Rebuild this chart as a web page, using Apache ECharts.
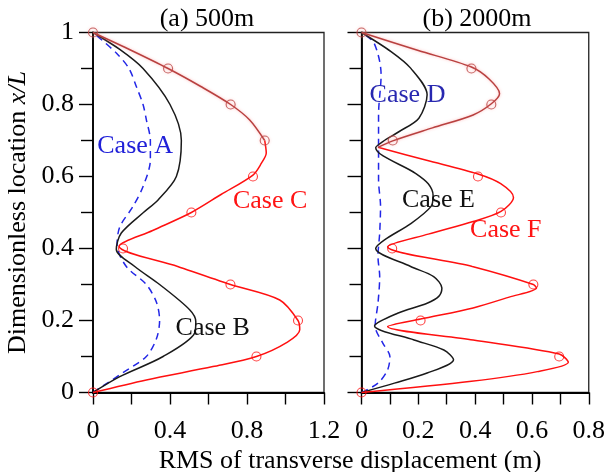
<!DOCTYPE html>
<html>
<head>
<meta charset="utf-8">
<script src="https://cdn.jsdelivr.net/npm/echarts/dist/echarts.min.js"></script>
<style>
  html, body { margin: 0; padding: 0; background: #fff; }
  #chart { width: 608px; height: 472px; }
</style>
</head>
<body>
<div id="chart"></div>
<script>
// ---------------- data: RMS transverse displacement vs. location x/L ----------------

// (a) 500 m riser
const caseA_y = [0, 0.055, 0.1, 0.15, 0.2, 0.25, 0.3, 0.35, 0.41, 0.46, 0.517, 0.572, 0.646, 0.7, 0.758, 0.8, 0.85, 0.9, 0.943, 1];
const caseA_x = [0, 0.155, 0.277, 0.33, 0.346, 0.33, 0.277, 0.173, 0.125, 0.139, 0.208, 0.26, 0.298, 0.298, 0.277, 0.26, 0.225, 0.187, 0.121, 0];

const caseB_y = [0, 0.044, 0.1, 0.165, 0.197, 0.23, 0.3, 0.35, 0.398, 0.443, 0.5, 0.535, 0.6, 0.7, 0.8, 0.9, 0.953, 1];
const caseB_x = [0, 0.139, 0.364, 0.528, 0.534, 0.502, 0.346, 0.217, 0.121, 0.147, 0.262, 0.338, 0.433, 0.459, 0.40, 0.26, 0.139, 0];

const caseC_y = [0, 0.035, 0.072, 0.1, 0.14, 0.174, 0.2, 0.257, 0.3, 0.35, 0.406, 0.45, 0.5, 0.55, 0.604, 0.637, 0.665, 0.7, 0.757, 0.8, 0.85, 0.9, 0.95, 1];
const caseC_x = [0, 0.277, 0.623, 0.849, 1.01, 1.074, 1.065, 0.97, 0.714, 0.44, 0.135, 0.31, 0.511, 0.665, 0.831, 0.875, 0.9, 0.892, 0.814, 0.715, 0.56, 0.39, 0.2, 0];

// (b) 2000 m riser
const caseD_y = [0, 0.026, 0.063, 0.1, 0.137, 0.185, 0.248, 0.322, 0.378, 0.443, 0.517, 0.59, 0.683, 0.771, 0.883, 0.971, 1];
const caseD_x = [0, 0.058, 0.092, 0.1, 0.075, 0.048, 0.058, 0.064, 0.058, 0.064, 0.067, 0.06, 0.06, 0.06, 0.069, 0.044, 0];

const caseE_y = [0, 0.026, 0.054, 0.091, 0.118, 0.146, 0.185, 0.22, 0.248, 0.267, 0.29, 0.322, 0.35, 0.40, 0.424, 0.47, 0.517, 0.548, 0.58, 0.609, 0.68, 0.697, 0.725, 0.762, 0.827, 0.901, 0.947, 1];
const caseE_x = [0, 0.116, 0.231, 0.324, 0.29, 0.185, 0.046, 0.127, 0.231, 0.272, 0.283, 0.254, 0.173, 0.05, 0.081, 0.175, 0.245, 0.252, 0.235, 0.19, 0.05, 0.075, 0.133, 0.202, 0.231, 0.173, 0.104, 0];

const caseF_y = [0, 0.031, 0.058, 0.084, 0.107, 0.146, 0.183, 0.204, 0.235, 0.265, 0.29, 0.3, 0.35, 0.405, 0.44, 0.475, 0.503, 0.542, 0.58, 0.607, 0.645, 0.681, 0.699, 0.735, 0.771, 0.802, 0.83, 0.87, 0.904, 0.95, 1];
const caseF_x = [0, 0.387, 0.619, 0.728, 0.696, 0.393, 0.092, 0.208, 0.393, 0.52, 0.616, 0.605, 0.39, 0.092, 0.235, 0.393, 0.491, 0.535, 0.49, 0.41, 0.229, 0.058, 0.11, 0.25, 0.393, 0.457, 0.486, 0.45, 0.387, 0.2, 0];

// sampled points (circles) at every 0.1 of x/L
const mark_y  = [0, 0.1, 0.2, 0.3, 0.4, 0.5, 0.6, 0.7, 0.8, 0.9, 1];
const caseC_markX = [0, 0.849, 1.065, 0.714, 0.156, 0.511, 0.831, 0.892, 0.715, 0.39, 0];
const caseF_markX = [0, 0.696, 0.208, 0.605, 0.108, 0.491, 0.41, 0.11, 0.457, 0.387, 0];

// axis ticks
const yTicks  = { min: 0, max: 1, step: 0.2 };
const xTicksA = { min: 0, max: 1.2, step: 0.4 };
const xTicksB = { min: 0, max: 0.8, step: 0.2 };

// ---------------- styling ----------------
const FONT = "'Liberation Serif', 'Times New Roman', serif";
const BLUE = '#2226e6';
const RED = '#ff1010';
const DARKRED = '#b8403f';
const BLACK = '#1a1a1a';

const zip = (xs, ys) => xs.map((x, i) => [x, ys[i]]);
const upperPart = (pts, cut) => pts.filter(p => p[1] >= cut);
const lowerPart = (pts, cut) => pts.filter(p => p[1] <= cut);

const chart = echarts.init(document.getElementById('chart'), null, { renderer: 'canvas' });

function lineSeries(name, gi, pts, color, opts = {}) {
  return Object.assign({
    name, type: 'line', xAxisIndex: gi, yAxisIndex: gi,
    data: pts, smooth: 0.3, showSymbol: false, clip: false, silent: true,
    animation: false,
    lineStyle: { color, width: 1.5 }
  }, opts);
}

function markSeries(name, gi, pts, color, halo) {
  return {
    name, type: 'scatter', xAxisIndex: gi, yAxisIndex: gi,
    data: pts, symbol: 'circle', symbolSize: 9, clip: false, silent: true, animation: false,
    itemStyle: {
      color: 'rgba(255,255,255,0)', borderColor: color, borderWidth: 1.1,
      shadowColor: halo ? 'rgba(255,140,140,0.6)' : 'transparent', shadowBlur: halo ? 3 : 0
    },
    z: 5
  };
}

const ptsA = zip(caseA_x, caseA_y);
const ptsB = zip(caseB_x, caseB_y);
const ptsC = zip(caseC_x, caseC_y);
const ptsD = zip(caseD_x, caseD_y);
const ptsE = zip(caseE_x, caseE_y);
const ptsF = zip(caseF_x, caseF_y);
const markC = zip(caseC_markX, mark_y);
const markF = zip(caseF_markX, mark_y);

const cutC = 0.7, cutF = 0.681;
const haloStyle = { shadowColor: 'rgba(255,140,140,0.6)', shadowBlur: 3 };

function xAxisCfg(gi, t) {
  return {
    type: 'value', gridIndex: gi, min: t.min, max: t.max, interval: t.step,
    axisLine: { show: true, onZero: false, lineStyle: { color: '#000', width: 1.8 } },
    axisTick: { show: true, length: 12, lineStyle: { color: '#000', width: 1.4 } },
    minorTick: { show: true, splitNumber: 2, length: 12, lineStyle: { color: '#000', width: 1.4 } },
    axisLabel: { fontFamily: FONT, fontSize: 26, color: '#000', margin: 26,
                 formatter: v => String(+v.toFixed(1)) },
    splitLine: { show: false }
  };
}

function yAxisCfg(gi, showLabels) {
  const cfg = {
    type: 'value', gridIndex: gi, min: yTicks.min, max: yTicks.max, interval: yTicks.step,
    axisLine: { show: true, onZero: false, lineStyle: { color: '#000', width: 1.8 } },
    axisTick: { show: true, length: 14, lineStyle: { color: '#000', width: 1.4 } },
    minorTick: { show: true, splitNumber: 2, length: 12, lineStyle: { color: '#000', width: 1.4 } },
    axisLabel: { show: showLabels, fontFamily: FONT, fontSize: 26, color: '#000', margin: 19,
                 formatter: v => String(+v.toFixed(1)) },
    splitLine: { show: false }
  };
  if (showLabels) {
    Object.assign(cfg, {
      name: '{n|Dimensionless location }{i|x/L}',
      nameLocation: 'middle', nameRotate: 90, nameGap: 62,
      nameTextStyle: {
        fontFamily: FONT, fontSize: 26, color: '#000',
        rich: {
          n: { fontFamily: FONT, fontSize: 26, color: '#000' },
          i: { fontFamily: FONT, fontSize: 26, color: '#000', fontStyle: 'italic' }
        }
      }
    });
  }
  return cfg;
}

const option = {
  backgroundColor: '#fff',
  animation: false,
  title: [
    { text: '(a) 500m', left: 202, top: 1, textAlign: 'center',
      textStyle: { fontFamily: FONT, fontSize: 26, fontWeight: 'normal', color: '#000' } },
    { text: '(b) 2000m', left: 472, top: 1, textAlign: 'center',
      textStyle: { fontFamily: FONT, fontSize: 26, fontWeight: 'normal', color: '#000' } },
    { text: 'RMS of transverse displacement (m)', left: 345, top: 443, textAlign: 'center',
      textStyle: { fontFamily: FONT, fontSize: 26, fontWeight: 'normal', color: '#000' } }
  ],
  grid: [
    { left: 93, top: 32.5, width: 231, height: 360, show: true, borderColor: '#222', borderWidth: 1.3, backgroundColor: 'transparent' },
    { left: 361.5, top: 32.5, width: 231, height: 360, show: true, borderColor: '#222', borderWidth: 1.3, backgroundColor: 'transparent' }
  ],
  xAxis: [xAxisCfg(0, xTicksA), xAxisCfg(1, xTicksB)],
  yAxis: [yAxisCfg(0, true), yAxisCfg(1, false)],
  series: [
    // panel (a)
    lineSeries('Case A', 0, ptsA, BLUE, { lineStyle: { color: BLUE, width: 1.5, type: [7, 5] } }),
    lineSeries('Case B', 0, ptsB, BLACK),
    lineSeries('Case C', 0, lowerPart(ptsC, cutC), RED),
    lineSeries('Case C upper', 0, upperPart(ptsC, cutC), DARKRED,
      { lineStyle: Object.assign({ color: DARKRED, width: 1.5 }, haloStyle) }),
    markSeries('Case C points', 0, markC.filter(p => p[1] < cutC), RED, false),
    markSeries('Case C points upper', 0, markC.filter(p => p[1] >= cutC), DARKRED, true),
    // panel (b)
    lineSeries('Case D', 1, ptsD, BLUE, { lineStyle: { color: BLUE, width: 1.5, type: [7, 5] } }),
    lineSeries('Case E', 1, ptsE, BLACK),
    lineSeries('Case F', 1, lowerPart(ptsF, cutF), RED),
    lineSeries('Case F upper', 1, upperPart(ptsF, cutF), DARKRED,
      { lineStyle: Object.assign({ color: DARKRED, width: 1.5 }, haloStyle) }),
    markSeries('Case F points', 1, markF.filter(p => p[1] < cutF), RED, false),
    markSeries('Case F points upper', 1, markF.filter(p => p[1] >= cutF), DARKRED, true)
  ]
};

chart.setOption(option);

// case labels, anchored in data coordinates of their panel
const caseLabels = [
  { text: 'Case A', grid: 0, at: [0.219, 0.683], color: '#2020d8' },
  { text: 'Case B', grid: 0, at: [0.622, 0.18], color: '#111' },
  { text: 'Case C', grid: 0, at: [0.92, 0.531], color: '#ff1414' },
  { text: 'Case D', grid: 1, at: [0.162, 0.827], color: '#2828b0' },
  { text: 'Case E', grid: 1, at: [0.271, 0.535], color: '#111' },
  { text: 'Case F', grid: 1, at: [0.508, 0.45], color: '#ff1414' }
];

chart.setOption({
  graphic: caseLabels.map(l => {
    const p = chart.convertToPixel({ xAxisIndex: l.grid, yAxisIndex: l.grid }, l.at);
    return {
      type: 'text', x: p[0], y: p[1], z: 10,
      style: { text: l.text, fill: l.color, font: '26px ' + FONT, align: 'center', verticalAlign: 'middle' }
    };
  })
});
</script>
</body>
</html>
